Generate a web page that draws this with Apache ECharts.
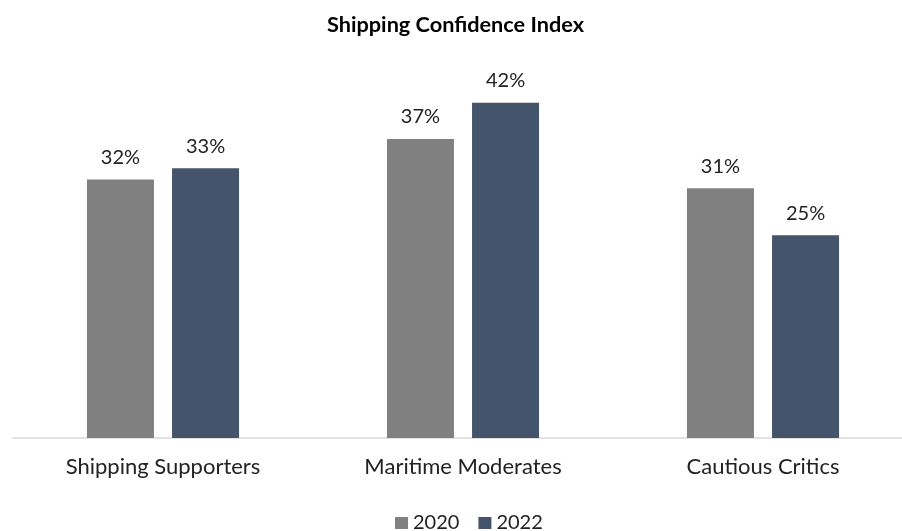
<!DOCTYPE html>
<html><head><meta charset="utf-8">
<script src="https://cdn.jsdelivr.net/npm/echarts@6/dist/echarts.min.js"></script>
<style>html,body{margin:0;padding:0;background:#fff;}#c{width:902px;height:531px;}</style>
</head><body><div id="c"></div>
<script>
const categories = ["Shipping Supporters", "Maritime Moderates", "Cautious Critics"];
const series2020 = [32, 37, 30.9];
const series2022 = [33.4, 41.5, 25.1];
const seriesNames = ["2020", "2022"];
const titleText = "Shipping Confidence Index";

const FONT = "Lato, 'Open Sans', sans-serif";
const chart = echarts.init(document.getElementById('c'), null, {renderer: 'canvas'});
const lbl = {show: true, position: 'top', distance: 12, color: '#222', fontSize: 20, fontFamily: FONT,
  formatter: p => Math.round(p.value) + '%'};
chart.setOption({
  animation: false,
  title: {text: titleText, left: 322, top: 9,
    textStyle: {fontFamily: FONT, fontWeight: 'bold', fontSize: 21.7, color: '#000'}},
  legend: {data: seriesNames, left: 390, top: 508, itemWidth: 13, itemHeight: 12, itemGap: 19,
    icon: 'rect', textStyle: {fontFamily: FONT, fontSize: 20, color: '#222'}},
  grid: {left: 13, width: 900, top: 34, height: 404, outerBoundsMode: 'none'},
  xAxis: {type: 'category', data: categories,
    axisLine: {lineStyle: {color: '#d9d9d9', width: 1.5}}, axisTick: {show: false},
    axisLabel: {fontFamily: FONT, fontSize: 22, color: '#222', margin: 18}},
  yAxis: {type: 'value', min: 0, max: 50, show: false, splitLine: {show: false}},
  series: [
    {name: seriesNames[0], type: 'bar', data: series2020, barWidth: 67, barGap: '27%', itemStyle: {color: '#808080'}, label: lbl},
    {name: seriesNames[1], type: 'bar', data: series2022, barWidth: 67, itemStyle: {color: '#44546a'}, label: lbl}
  ]
});
</script></body></html>
